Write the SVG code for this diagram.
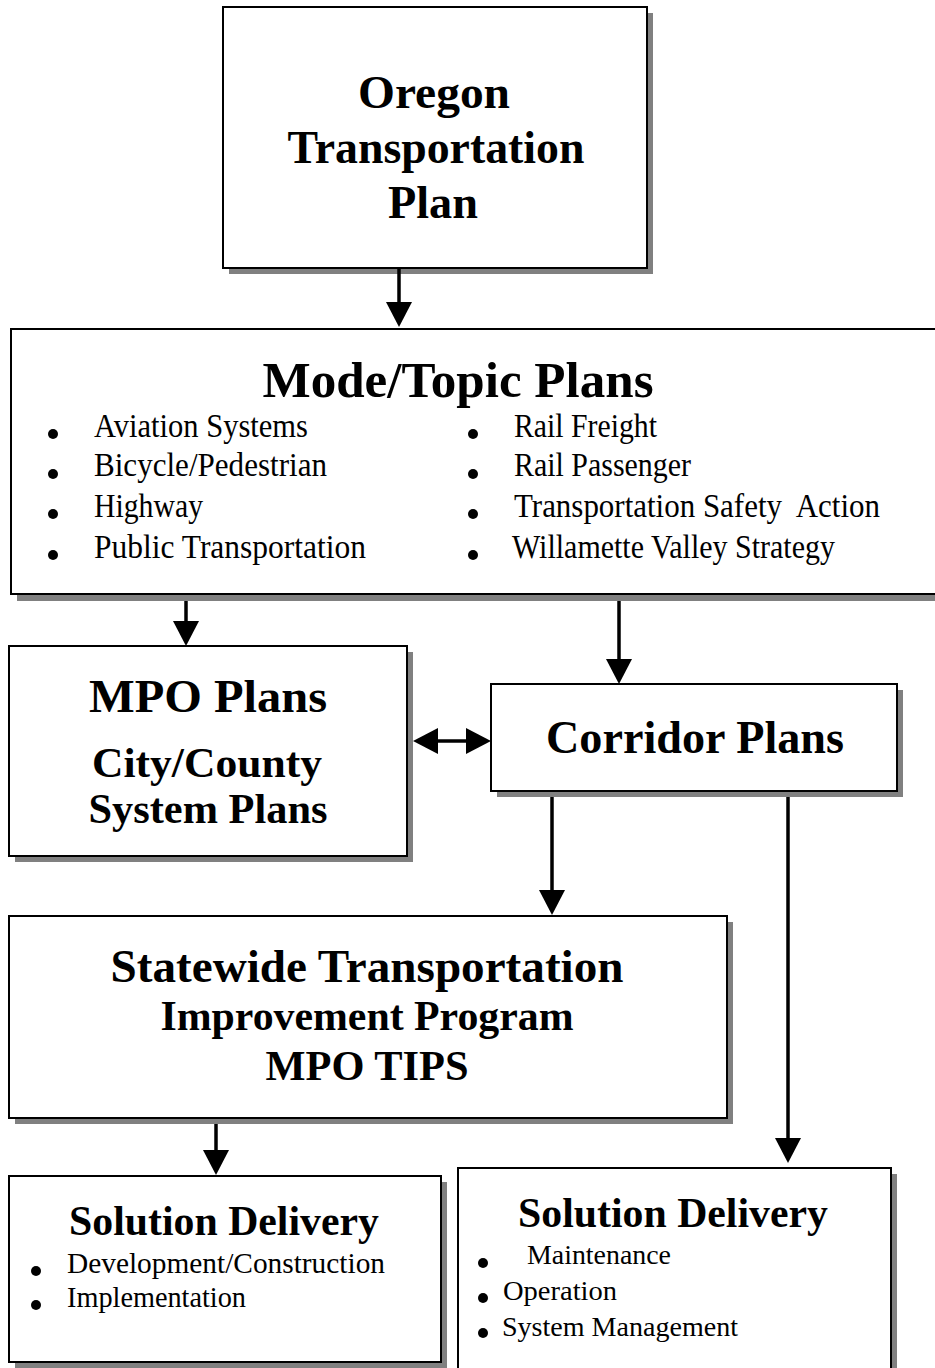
<svg xmlns="http://www.w3.org/2000/svg" width="935" height="1368" viewBox="0 0 935 1368">
<style>
.box{fill:#fff;stroke:#000;stroke-width:2}
.shadow{fill:#808080}
.t{font-family:'Liberation Serif','Times New Roman',Times,serif;font-weight:bold;fill:#000;text-anchor:middle}
.b{font-family:'Liberation Serif','Times New Roman',Times,serif;fill:#000}
.dot{fill:#000}
.conn{stroke:#000;stroke-width:3.5;fill:none}
</style>
<defs>
<marker id="ah" markerUnits="userSpaceOnUse" markerWidth="26" markerHeight="26" refX="15" refY="13" orient="auto-start-reverse" viewBox="0 0 26 26">
<path d="M0,0 L25,13 L0,26 z" fill="#000"/>
</marker>
</defs>
<rect width="935" height="1368" fill="#fff"/>

<g id="otp">
<rect class="shadow" x="229" y="13" width="424" height="261"/>
<rect class="box" x="223" y="7" width="424" height="261"/>
<text class="t" x="434" y="108" font-size="47" textLength="152" lengthAdjust="spacingAndGlyphs">Oregon</text>
<text class="t" x="436" y="163" font-size="47" textLength="297" lengthAdjust="spacingAndGlyphs">Transportation</text>
<text class="t" x="433" y="218" font-size="47" textLength="90" lengthAdjust="spacingAndGlyphs">Plan</text>
</g>

<g id="mode">
<rect class="shadow" x="17" y="335" width="940" height="266"/>
<rect class="box" x="11" y="329" width="940" height="265"/>
<text class="t" x="458" y="397" font-size="51" textLength="391" lengthAdjust="spacingAndGlyphs">Mode/Topic Plans</text>
<circle class="dot" cx="53" cy="434" r="5"/>
<circle class="dot" cx="53" cy="474" r="5"/>
<circle class="dot" cx="53" cy="514" r="5"/>
<circle class="dot" cx="53" cy="555" r="5"/>
<circle class="dot" cx="473" cy="434" r="5"/>
<circle class="dot" cx="473" cy="474" r="5"/>
<circle class="dot" cx="473" cy="514" r="5"/>
<circle class="dot" cx="473" cy="555" r="5"/>
<text class="b" x="94" y="437" font-size="33" textLength="214" lengthAdjust="spacingAndGlyphs">Aviation Systems</text>
<text class="b" x="94" y="476" font-size="33" textLength="233" lengthAdjust="spacingAndGlyphs">Bicycle/Pedestrian</text>
<text class="b" x="94" y="517" font-size="33" textLength="109" lengthAdjust="spacingAndGlyphs">Highway</text>
<text class="b" x="94" y="558" font-size="33" textLength="272" lengthAdjust="spacingAndGlyphs">Public Transportation</text>
<text class="b" x="514" y="437" font-size="33" textLength="143" lengthAdjust="spacingAndGlyphs">Rail Freight</text>
<text class="b" x="514" y="476" font-size="33" textLength="177" lengthAdjust="spacingAndGlyphs">Rail Passenger</text>
<text class="b" x="514" y="517" font-size="33" textLength="366" lengthAdjust="spacingAndGlyphs" xml:space="preserve">Transportation Safety  Action</text>
<text class="b" x="512" y="558" font-size="33" textLength="323" lengthAdjust="spacingAndGlyphs">Willamette Valley Strategy</text>
</g>

<g id="mpo">
<rect class="shadow" x="15" y="652" width="398" height="210"/>
<rect class="box" x="9" y="646" width="398" height="210"/>
<text class="t" x="208" y="712" font-size="46" textLength="238" lengthAdjust="spacingAndGlyphs">MPO Plans</text>
<text class="t" x="207" y="777" font-size="42" textLength="230" lengthAdjust="spacingAndGlyphs">City/County</text>
<text class="t" x="208" y="823" font-size="42" textLength="239" lengthAdjust="spacingAndGlyphs">System Plans</text>
</g>

<g id="corridor">
<rect class="shadow" x="497" y="690" width="406" height="107"/>
<rect class="box" x="491" y="684" width="406" height="107"/>
<text class="t" x="695" y="753" font-size="47" textLength="298" lengthAdjust="spacingAndGlyphs">Corridor Plans</text>
</g>

<g id="stip">
<rect class="shadow" x="15" y="922" width="718" height="202"/>
<rect class="box" x="9" y="916" width="718" height="202"/>
<text class="t" x="367" y="982" font-size="47" textLength="513" lengthAdjust="spacingAndGlyphs">Statewide Transportation</text>
<text class="t" x="367" y="1030" font-size="43" textLength="413" lengthAdjust="spacingAndGlyphs">Improvement Program</text>
<text class="t" x="367" y="1080" font-size="43" textLength="203" lengthAdjust="spacingAndGlyphs">MPO TIPS</text>
</g>

<g id="solution-left">
<rect class="shadow" x="15" y="1182" width="432" height="186"/>
<rect class="box" x="9" y="1176" width="432" height="186"/>
<text class="t" x="224" y="1235" font-size="43" textLength="310" lengthAdjust="spacingAndGlyphs">Solution Delivery</text>
<circle class="dot" cx="36" cy="1271" r="5"/>
<circle class="dot" cx="36" cy="1305" r="5"/>
<text class="b" x="67" y="1273" font-size="30" textLength="318" lengthAdjust="spacingAndGlyphs">Development/Construction</text>
<text class="b" x="67" y="1307" font-size="30" textLength="179" lengthAdjust="spacingAndGlyphs">Implementation</text>
</g>

<g id="solution-right">
<rect class="shadow" x="464" y="1174" width="433" height="220"/>
<rect class="box" x="458" y="1168" width="433" height="220"/>
<text class="t" x="673" y="1227" font-size="43" textLength="310" lengthAdjust="spacingAndGlyphs">Solution Delivery</text>
<circle class="dot" cx="483" cy="1263" r="5"/>
<circle class="dot" cx="483" cy="1298" r="5"/>
<circle class="dot" cx="483" cy="1333" r="5"/>
<text class="b" x="527" y="1264" font-size="28" textLength="144" lengthAdjust="spacingAndGlyphs">Maintenance</text>
<text class="b" x="503" y="1300" font-size="28" textLength="114" lengthAdjust="spacingAndGlyphs">Operation</text>
<text class="b" x="502" y="1336" font-size="28" textLength="236" lengthAdjust="spacingAndGlyphs">System Management</text>
</g>

<g id="connectors">
<line class="conn" x1="399" y1="268" x2="399" y2="317" marker-end="url(#ah)"/>
<line class="conn" x1="186" y1="601" x2="186" y2="636" marker-end="url(#ah)"/>
<line class="conn" x1="619" y1="601" x2="619" y2="674" marker-end="url(#ah)"/>
<line class="conn" x1="423" y1="741" x2="481" y2="741" marker-start="url(#ah)" marker-end="url(#ah)"/>
<line class="conn" x1="552" y1="797" x2="552" y2="905" marker-end="url(#ah)"/>
<line class="conn" x1="788" y1="797" x2="788" y2="1153" marker-end="url(#ah)"/>
<line class="conn" x1="216" y1="1124" x2="216" y2="1165" marker-end="url(#ah)"/>
</g>
</svg>
